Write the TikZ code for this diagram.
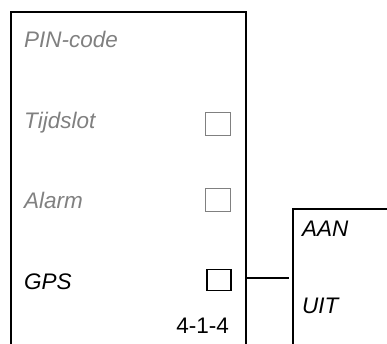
\documentclass[tikz,border=0pt]{standalone}
\usepackage{fontspec}
\setmainfont{Liberation Sans}
\usetikzlibrary{positioning}

\definecolor{dimgrey}{RGB}{128,128,128}

\begin{document}
\begin{tikzpicture}[x=1pt, y=-1pt,
    panel/.style={line width=1.8pt},
    item/.style={anchor=base west, inner sep=0pt, font=\fontsize{22.5}{26}\selectfont\itshape},
    off/.style={item, text=dimgrey},
    tick/.style={draw=dimgrey, line width=1pt, minimum width=25pt, minimum height=23pt, inner sep=0pt},
    tickon/.style={draw, line width=1.8pt, minimum width=24pt, minimum height=21pt, inner sep=0pt}]
  \useasboundingbox (0,0) rectangle (387,344);
  % menu panel
  \draw[panel] (11,344) -- (11,12) -- (246,12) -- (246,344);
  \node[off] (pin) at (24,48) {PIN-code};
  \node[off] (tijd) at (24,129) {Tijdslot};
  \node[off] (alarm) at (24,208) {Alarm};
  \node[item] (gps) at (24,289) {GPS};
  \node[tick] (bt) at (217.5,124) {};
  \node[tick] (ba) at (217.5,200) {};
  \node[tickon] (bg) at (219,280) {};
  \node[anchor=base east, inner sep=0pt, font=\fontsize{22.5}{26}\selectfont] (code) at (229,333) {4-1-4};
  % submenu
  \draw[panel] (293,344) -- (293,209) -- (387,209);
  \node[item] (aan) at (302,236) {AAN};
  \node[item] (uit) at (302,313) {UIT};
  \coordinate (from) at (246,278);
  \coordinate (to) at (289,278);
  \draw[line width=1.5pt] (from) -- (to);
\end{tikzpicture}
\end{document}
